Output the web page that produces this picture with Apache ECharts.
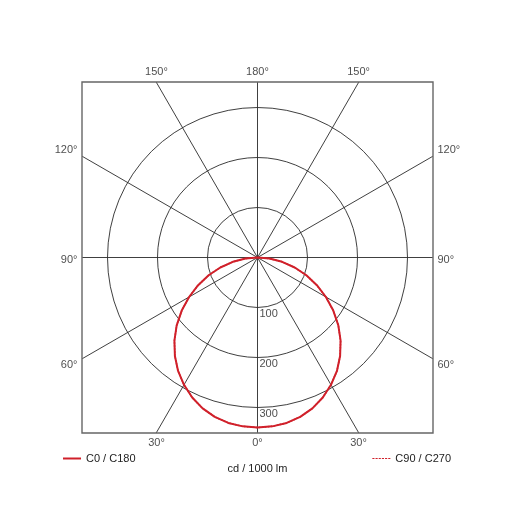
<!DOCTYPE html>
<html>
<head>
<meta charset="utf-8">
<script src="https://cdn.jsdelivr.net/npm/echarts@6/dist/echarts.min.js"></script>
<style>
html,body{margin:0;padding:0;background:#fff;}
#chart{width:515px;height:515px;}
</style>
</head>
<body>
<div id="chart"></div>
<script>
// Gamma angles (deg) of the measured half-plane, 0 = straight down
const gammaAngles = [0,5,10,15,20,25,30,35,40,45,50,55,60,65,70,75,80,85,90];
// Luminous intensity, cd / 1000 lm (symmetric curve)
const c0c180 = [340,339,336,330,321,309,294,277,257,235,211,185,158,131,104,77,50,24,0];
const c90c270 = [340,339,336,330,321,309,294,277,257,235,211,185,158,131,104,77,50,24,0];
// Spoke angles and their edge labels
const spokeAngles = [0,30,60,90,120,150,180,210,240,270,300,330];
const spokeLabels = ['0°','30°','60°','90°','120°','150°','180°','150°','120°','90°','60°','30°'];
// Radial tick labels
const radialTicks = [100,200,300];
const FRAME_HALF = 350; // half-size of the square frame, in cd units
const FONT = 'Liberation Sans, Arial, sans-serif';
const RED = '#d0202a';
const INK = '#222';

function mirrored(vals){
  const pts = [];
  for (let i = gammaAngles.length - 1; i > 0; i--) pts.push([vals[i], 360 - gammaAngles[i]]);
  for (let i = 0; i < gammaAngles.length; i++) pts.push([vals[i], gammaAngles[i]]);
  return pts;
}
function edgeRadius(a){
  const t = a * Math.PI / 180;
  return FRAME_HALF / Math.max(Math.abs(Math.cos(t)), Math.abs(Math.sin(t)));
}

const series = [];
spokeAngles.forEach(function(a){
  series.push({
    type:'line', coordinateSystem:'polar', symbol:'none', silent:true,
    data:[[0,a],[edgeRadius(a),a]],
    lineStyle:{color:'#2a2a2a', width:0.9}
  });
});
series.push({
  type:'scatter', coordinateSystem:'polar', symbolSize:0, silent:true, clip:false,
  data: spokeAngles.map(function(a,i){
    const r = edgeRadius(a);
    let pos, off = [0,0];
    if (a >= 135 && a <= 225) pos = 'top';
    else if (a <= 45 || a >= 315) pos = 'bottom';
    else {
      pos = (a < 180) ? 'left' : 'right';
      const k = (a < 180) ? a : 360 - a;
      off = [0, k > 90 ? -6 : (k < 90 ? 6 : 2)];
    }
    return {value:[r,a], label:{show:true, formatter:spokeLabels[i], position:pos, distance:5, offset:off}};
  }),
  label:{color:INK, fontSize:11, fontFamily:FONT}
});
series.push({
  type:'scatter', coordinateSystem:'polar', symbolSize:0, silent:true,
  data: radialTicks.map(function(v){ return [v,0]; }),
  label:{show:true, formatter:function(p){return String(p.value[0]);}, position:'bottom', distance:1, align:'left', offset:[2,0], color:INK, fontSize:11, fontFamily:FONT}
});
series.push({
  name:'C90 / C270', type:'line', coordinateSystem:'polar', symbol:'none',
  data: mirrored(c90c270),
  lineStyle:{color:RED, width:1.5, type:'dotted'}, itemStyle:{color:RED}
});
series.push({
  name:'C0 / C180', type:'line', coordinateSystem:'polar', symbol:'none',
  data: mirrored(c0c180),
  lineStyle:{color:RED, width:2}, itemStyle:{color:RED}
});

const chart = echarts.init(document.getElementById('chart'), null, {renderer:'canvas'});
chart.setOption({
  animation:false,
  backgroundColor:'#fff',
  title:{text:'cd / 1000 lm', left:'center', top:458, textStyle:{fontSize:11, fontWeight:'normal', color:INK, fontFamily:FONT}},
  grid:{show:true, left:82, top:82, width:351, height:351, borderColor:'#666', borderWidth:1.4, backgroundColor:'transparent'},
  xAxis:{show:false, type:'value', min:-1, max:1},
  yAxis:{show:false, type:'value', min:-1, max:1},
  polar:{center:[257.5,257.5], radius:225},
  angleAxis:{type:'value', min:0, max:360, startAngle:-90, clockwise:true, show:true,
    axisLine:{show:false}, axisTick:{show:false}, axisLabel:{show:false}, splitLine:{show:false}},
  radiusAxis:{type:'value', min:0, max:450, interval:100,
    axisLine:{show:false}, axisTick:{show:false}, axisLabel:{show:false},
    splitLine:{show:true, lineStyle:{color:['#2a2a2a','#2a2a2a','#2a2a2a','#2a2a2a','rgba(0,0,0,0)','rgba(0,0,0,0)'], width:0.9}}},
  legend:[
    {data:[{name:'C0 / C180', icon:'path://M0,0h18v2h-18z'}], left:63, top:453, padding:0, itemWidth:18, itemHeight:2, itemGap:5,
     textStyle:{fontSize:11, color:INK, fontFamily:FONT}},
    {data:[{name:'C90 / C270', icon:'path://M0,0h2v1h-2z M3,0h2v1h-2z M6,0h2v1h-2z M9,0h2v1h-2z M12,0h2v1h-2z M15,0h2v1h-2z'}], right:64, top:453, padding:0, itemWidth:18, itemHeight:2, itemGap:5,
     textStyle:{fontSize:11, color:INK, fontFamily:FONT}}
  ],
  series: series
});
</script>
</body>
</html>
